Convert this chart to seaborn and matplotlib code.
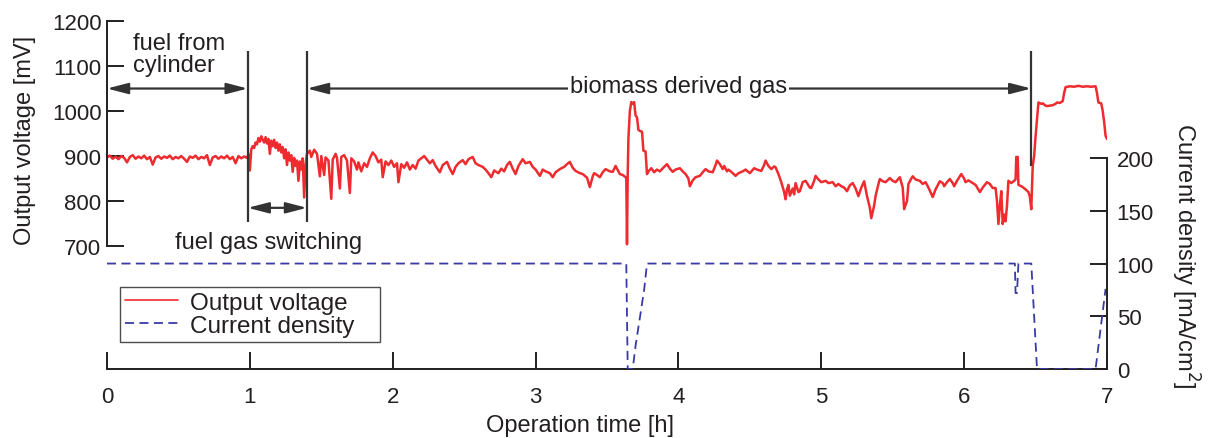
import numpy as np
import pandas as pd
import matplotlib
matplotlib.use("Agg")
import matplotlib.pyplot as plt
from matplotlib.lines import Line2D
import seaborn as sns

# output voltage [mV], in pieces
# fuel from cylinder (0 - 1 h), sampled every 0.02 h
t_cyl = np.round(np.arange(0, 0.99, 0.02), 2)
v_cyl = [897, 901, 894, 899, 893, 900, 896, 886, 898, 902, 894, 899, 895, 901, 893, 898, 881,
         897, 900, 894, 899, 896, 901, 893, 898, 895, 900, 894, 887, 899, 896, 901, 893, 898,
         895, 902, 880, 897, 900, 894, 899, 895, 901, 893, 898, 884, 900, 895, 899, 896]

# fuel gas switching
t_switch = [0.985, 0.99, 1.0, 1.01, 1.02, 1.03, 1.04, 1.05, 1.06, 1.07, 1.08, 1.09, 1.10, 1.11,
            1.12, 1.13, 1.14, 1.15, 1.16, 1.17, 1.18, 1.19, 1.20, 1.21, 1.22, 1.23, 1.24, 1.25,
            1.26, 1.27, 1.28, 1.29, 1.30, 1.31, 1.32, 1.33, 1.34, 1.35, 1.36, 1.37, 1.38, 1.39]
v_switch = [899, 905, 868, 915, 922, 918, 930, 926, 940, 932, 944, 936, 930, 942,
            928, 938, 905, 934, 922, 936, 918, 930, 912, 926, 908, 920, 895, 915,
            880, 908, 890, 902, 865, 896, 878, 890, 845, 888, 870, 895, 808, 882]

# biomass derived gas
t_bio1 = [1.40, 1.42, 1.43, 1.45, 1.47, 1.49, 1.50, 1.52, 1.53, 1.55, 1.57, 1.58, 1.60, 1.61,
          1.63, 1.64, 1.66, 1.68, 1.70, 1.71, 1.73, 1.75, 1.76, 1.78, 1.80, 1.82, 1.84, 1.86,
          1.88, 1.90, 1.92, 1.93, 1.95, 1.97, 1.99, 2.01, 2.03, 2.04, 2.06, 2.08, 2.10, 2.12,
          2.14, 2.16, 2.18, 2.20, 2.22, 2.24, 2.26, 2.28, 2.30, 2.33, 2.35, 2.38, 2.40, 2.42,
          2.44, 2.46, 2.49, 2.51, 2.53, 2.56, 2.58, 2.60, 2.63, 2.65, 2.67, 2.69, 2.71, 2.74,
          2.76, 2.78, 2.80, 2.82]
v_bio1 = [905, 912, 898, 914, 905, 855, 900, 858, 897, 890, 805, 892, 905, 896,
          828, 898, 902, 890, 818, 895, 888, 870, 886, 866, 884, 876, 895, 908,
          900, 886, 892, 853, 888, 880, 890, 876, 884, 842, 882, 874, 886, 870,
          880, 872, 890, 895, 900, 892, 884, 891, 878, 864, 880, 887, 872, 860,
          876, 884, 891, 882, 893, 898, 884, 880, 876, 870, 862, 853, 868, 862,
          872, 866, 880, 887]

t_bio2 = [2.84, 2.86, 2.88, 2.91, 2.93, 2.96, 2.98, 3.00, 3.03, 3.05, 3.07, 3.10, 3.12, 3.14,
          3.17, 3.20, 3.22, 3.24, 3.26, 3.28, 3.31, 3.33, 3.36, 3.38, 3.40, 3.41, 3.43, 3.45,
          3.47, 3.49, 3.52, 3.54, 3.56, 3.58, 3.59, 3.61, 3.63, 3.635, 3.64, 3.645, 3.65, 3.66,
          3.67, 3.68, 3.69, 3.70, 3.71, 3.72, 3.73, 3.745, 3.755, 3.77, 3.78, 3.79, 3.81, 3.83,
          3.85, 3.87, 3.90, 3.92, 3.94, 3.96, 3.98, 4.01, 4.03, 4.05, 4.07, 4.08, 4.10, 4.12,
          4.15, 4.17, 4.19, 4.21]
v_bio2 = [872, 860, 878, 893, 884, 887, 876, 870, 856, 870, 866, 862, 853, 864,
          871, 876, 882, 887, 874, 867, 862, 860, 852, 831, 855, 862, 858, 853,
          864, 871, 866, 865, 878, 866, 860, 858, 853, 850, 704, 860, 940, 1000,
          1020, 1016, 1020, 990, 986, 958, 956, 954, 912, 910, 860, 866, 873, 864,
          870, 866, 876, 882, 872, 865, 870, 873, 866, 860, 850, 833, 846, 853,
          856, 864, 871, 866]

t_bio3 = [4.24, 4.26, 4.27, 4.29, 4.31, 4.32, 4.34, 4.35, 4.37, 4.40, 4.42, 4.45, 4.47, 4.50,
          4.53, 4.55, 4.58, 4.60, 4.61, 4.63, 4.65, 4.67, 4.68, 4.70, 4.72, 4.74, 4.75, 4.76,
          4.77, 4.78, 4.80, 4.81, 4.82, 4.84, 4.85, 4.87, 4.89, 4.90, 4.92, 4.93, 4.95, 4.96,
          4.98, 5.00, 5.03, 5.05, 5.08, 5.10, 5.12, 5.14, 5.16, 5.18, 5.20, 5.22, 5.24, 5.26,
          5.28, 5.30, 5.32, 5.34, 5.35, 5.37, 5.38, 5.40, 5.41, 5.43, 5.45, 5.47, 5.48, 5.50,
          5.52, 5.55, 5.57, 5.58, 5.60, 5.61]
v_bio3 = [864, 880, 890, 882, 871, 878, 866, 870, 865, 856, 862, 866, 870, 862,
          873, 870, 867, 880, 890, 878, 871, 877, 875, 860, 842, 820, 804, 826,
          836, 812, 828, 815, 840, 820, 822, 842, 845, 840, 830, 829, 845, 856,
          848, 842, 845, 840, 842, 833, 838, 833, 830, 822, 835, 840, 828, 811,
          830, 844, 811, 785, 762, 790, 811, 838, 849, 844, 842, 848, 851, 845,
          842, 853, 830, 782, 800, 838]

t_bio4 = [5.63, 5.64, 5.66, 5.69, 5.71, 5.73, 5.75, 5.78, 5.80, 5.83, 5.85, 5.86, 5.88, 5.90,
          5.92, 5.93, 5.95, 5.98, 6.00, 6.01, 6.03, 6.06, 6.08, 6.11, 6.13, 6.16, 6.18, 6.20,
          6.22, 6.23, 6.24, 6.25, 6.26, 6.27, 6.28, 6.29, 6.30, 6.31, 6.33, 6.35, 6.36, 6.365,
          6.375, 6.38, 6.40, 6.41, 6.43, 6.45, 6.46, 6.47]
v_bio4 = [850, 855, 848, 845, 838, 842, 830, 809, 826, 844, 840, 833, 842, 849,
          840, 833, 845, 860, 850, 842, 846, 840, 836, 820, 830, 842, 838, 829,
          829, 800, 749, 790, 822, 749, 770, 755, 790, 845, 840, 845, 848, 898,
          898, 836, 833, 831, 826, 820, 810, 782]

# after 6.5 h
t_end = [6.48, 6.49, 6.50, 6.51, 6.52, 6.54, 6.55, 6.57, 6.58, 6.60, 6.62, 6.64, 6.65, 6.67,
         6.69, 6.70, 6.71, 6.74, 6.77, 6.80, 6.83, 6.86, 6.89, 6.92, 6.93, 6.94, 6.96, 6.97,
         6.98, 6.99, 7.00]
v_end = [878, 900, 944, 982, 1019, 1016, 1017, 1012, 1011, 1012, 1013, 1016, 1019, 1018,
         1022, 1040, 1053, 1055, 1054, 1056, 1054, 1055, 1054, 1055, 1040, 1019, 1017, 1000,
         976, 945, 938]

# current density [mA/cm2]
t_cd = [0, 3.635, 3.645, 3.68, 3.70, 3.76, 3.78, 6.355, 6.36, 6.37, 6.38, 6.47, 6.49, 6.51,
        6.92, 6.99]
cd = [100, 100, 0, 0, 22, 75, 100, 100, 72, 72, 100, 100, 50, 0, 0, 76]

volt = pd.DataFrame({
    "time": np.concatenate([t_cyl, t_switch, t_bio1, t_bio2, t_bio3, t_bio4, t_end]),
    "voltage": np.concatenate([v_cyl, v_switch, v_bio1, v_bio2, v_bio3, v_bio4, v_end]),
})
curr = pd.DataFrame({"time": t_cd, "current": cd})

ink = "#231f20"
red = "#ee2b2f"
blue = "#3a3aa6"

sns.set_style("ticks")
plt.rcParams["font.family"] = ["Liberation Sans", "DejaVu Sans"]
plt.rcParams["text.color"] = ink
plt.rcParams["axes.labelcolor"] = ink
plt.rcParams["xtick.color"] = ink
plt.rcParams["ytick.color"] = ink

fig = plt.figure(figsize=(12.1, 4.39), dpi=100)
ax = fig.add_axes([107 / 1210, 69 / 439, 1000 / 1210, 348 / 439])
ax2 = ax.twinx()

sns.lineplot(data=volt, x="time", y="voltage", ax=ax, color=red, lw=1.8,
             estimator=None, legend=False)
sns.lineplot(data=curr, x="time", y="current", ax=ax2, color=blue, lw=1.3,
             estimator=None, legend=False)
ax2.lines[-1].set_dashes([5, 3])

# axes
ax.set_xlim(0, 7)
ax.set_ylim(427, 1200)
ax2.set_ylim(0, 330)
ax.set_xticks(range(0, 8))
ax.set_yticks(range(700, 1201, 100))
ax2.set_yticks(range(0, 201, 50))

for s in ["top", "right"]:
    ax.spines[s].set_visible(False)
for s in ["top", "left", "bottom"]:
    ax2.spines[s].set_visible(False)
ax.spines["left"].set_bounds(700, 1200)
ax2.spines["right"].set_bounds(0, 200)
for sp in [ax.spines["left"], ax.spines["bottom"], ax2.spines["right"]]:
    sp.set_color(ink)
    sp.set_linewidth(1.4)

ax.tick_params(axis="both", direction="in", length=12, width=1.4, labelsize=16)
ax.tick_params(axis="y", pad=4)
ax.tick_params(axis="x", pad=12)
ax2.tick_params(axis="y", direction="in", length=12, width=1.4, labelsize=16, pad=7)

ax.set_xlabel("Operation time [h]", fontsize=17)
ax.xaxis.set_label_coords(0.4725, -0.13)
ax.set_ylabel("Output voltage [mV]", fontsize=17)
ax.yaxis.set_label_coords(-0.071, 0.66)
ax2.set_ylabel("Current density [mA/cm$^2$]", fontsize=17, rotation=270, va="bottom")
ax2.yaxis.set_label_coords(1.062, 0.33)

# annotations
arrow = dict(arrowstyle="<|-|>,head_length=0.85,head_width=0.22", color="#333333",
             lw=1.6, shrinkA=0, shrinkB=0, mutation_scale=15)
ax.vlines([0.985, 1.4], 753, 1133, color="#333333", lw=1.6)
ax.vlines(6.47, 878, 1133, color="#333333", lw=1.6)
ax.annotate("", xy=(0, 1050), xytext=(0.985, 1050), arrowprops=arrow)
ax.annotate("", xy=(1.4, 1050), xytext=(6.47, 1050), arrowprops=arrow)
ax.annotate("", xy=(0.985, 785), xytext=(1.4, 785), arrowprops=arrow)
ax.text(0.18, 1175, "fuel from\ncylinder", fontsize=17, va="top", ha="left", linespacing=1.0)
ax.text(4.0, 1055, "biomass derived gas", fontsize=17, ha="center", va="center",
        bbox=dict(facecolor="white", edgecolor="none", pad=1.5), zorder=5)
ax.text(1.13, 710, "fuel gas switching", fontsize=17, ha="center", va="center")

handles = [Line2D([], [], color=red, lw=1.2),
           Line2D([], [], color=blue, lw=1.3, dashes=[5, 3])]
leg = ax2.legend(handles, ["Output voltage", "Current density   "], loc="lower left",
                 bbox_to_anchor=(0.013, 0.078), fontsize=17.5, frameon=True, fancybox=False,
                 handlelength=2.2, handletextpad=0.5, labelspacing=0.05, borderpad=0.2,
                 borderaxespad=0)
leg.get_frame().set_edgecolor(ink)
leg.get_frame().set_linewidth(1.0)

fig.savefig("out.png", dpi=100)
